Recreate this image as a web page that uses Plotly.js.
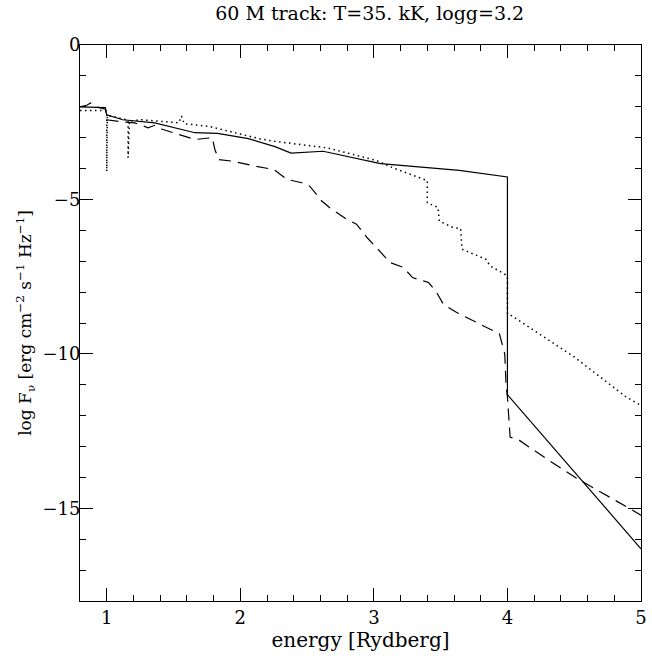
<!DOCTYPE html>
<html>
<head>
<meta charset="utf-8">
<script src="https://cdn.plot.ly/plotly-3.0.1.min.js"></script>
<style>html,body{margin:0;padding:0;background:#fff;}</style>
</head>
<body>
<div id="chart" style="width:652px;height:656px;"></div>
<script>
// Solid series
const solidX = [0.8, 0.99, 1.0, 1.12, 1.36, 1.5, 1.66, 1.83, 2.06, 2.26, 2.38, 2.62, 3.05, 3.64, 4.0, 4.0, 5.0];
const solidY = [-2.0, -2.03, -2.26, -2.42, -2.52, -2.68, -2.84, -2.86, -3.03, -3.29, -3.5, -3.44, -3.84, -4.06, -4.27, -11.32, -16.31];

// Dotted series
const dotX = [0.8, 0.99, 1.0, 1.0, 1.0, 1.005, 1.15, 1.16, 1.16, 1.17, 1.26, 1.54, 1.56, 1.58, 1.76, 2.15, 2.26, 2.65, 3.02, 3.14, 3.4, 3.4, 3.48, 3.49, 3.59, 3.65, 3.66, 3.84, 3.87, 3.98, 4.0, 4.0, 4.03, 4.5, 4.89, 5.0];
const dotY = [-2.12, -2.12, -2.15, -4.09, -2.26, -2.28, -2.42, -2.45, -3.65, -2.46, -2.42, -2.52, -2.3, -2.55, -2.63, -3.04, -3.12, -3.33, -3.74, -3.97, -4.39, -5.11, -5.26, -5.7, -5.9, -5.95, -6.61, -6.94, -7.15, -7.42, -7.5, -8.71, -8.76, -10.1, -11.4, -11.67];

// Dashed series
const dashX = [0.8, 0.85, 0.88, 0.92, 0.99, 1.0, 1.12, 1.21, 1.31, 1.36, 1.41, 1.51, 1.66, 1.79, 1.81, 1.84, 1.94, 2.11, 2.25, 2.35, 2.46, 2.52, 2.61, 2.67, 2.8, 2.87, 2.95, 3.02, 3.12, 3.22, 3.29, 3.41, 3.47, 3.52, 3.62, 3.74, 3.84, 3.94, 3.98, 3.99, 4.0, 4.02, 4.09, 4.29, 4.52, 4.89, 5.0];
const dashY = [-2.0, -1.95, -1.88, -2.0, -2.08, -2.42, -2.49, -2.52, -2.68, -2.6, -2.72, -2.85, -3.06, -3.0, -3.39, -3.71, -3.76, -3.92, -4.03, -4.35, -4.46, -4.57, -5.05, -5.27, -5.65, -5.8, -6.24, -6.56, -7.04, -7.2, -7.53, -7.69, -8.01, -8.39, -8.66, -8.92, -9.14, -9.35, -10.0, -11.02, -11.4, -12.69, -12.8, -13.39, -14.03, -14.95, -15.22];

const titleText = '60 M track: T=35. kK, logg=3.2';
const xTitle = 'energy [Rydberg]';
const yTitle = 'log F<sub>ν</sub> [erg cm<sup>−2</sup> s<sup>−1</sup> Hz<sup>−1</sup>]';
const xTickVals = [1, 2, 3, 4, 5];
const yTickVals = [0, -5, -10, -15];
const yTickText = ['0', '−5', '−10', '−15'];

const font = 'DejaVu Serif, Liberation Serif, serif';

const traces = [
  {x: solidX, y: solidY, mode: 'lines', line: {color: '#000', width: 1.2}, hoverinfo: 'skip'},
  {x: dotX, y: dotY, mode: 'lines', line: {color: '#000', width: 1.5, dash: '1.5px,3.5px'}, hoverinfo: 'skip'},
  {x: dashX, y: dashY, mode: 'lines', line: {color: '#000', width: 1.2, dash: '12px,7px'}, hoverinfo: 'skip'}
];

const axisCommon = {
  showgrid: false, zeroline: false, showline: true, linecolor: '#000', linewidth: 1,
  mirror: 'ticks', ticks: 'inside', tickcolor: '#000', ticklen: 13, tickwidth: 1,
  tickfont: {family: font, size: 18, color: '#000'}
};

const layout = {
  width: 652, height: 656,
  margin: {l: 80, r: 11, t: 45, b: 55},
  paper_bgcolor: '#fff', plot_bgcolor: '#fff',
  showlegend: false,
  title: {text: titleText, font: {family: font, size: 19, color: '#000'}, x: 0.567, xref: 'container', xanchor: 'center', y: 0.98, yref: 'container', yanchor: 'middle'},
  xaxis: Object.assign({}, axisCommon, {
    range: [0.8, 5], tickvals: xTickVals, ticktext: xTickVals.map(String),
    minor: {dtick: 0.2, tick0: 0, ticks: 'inside', ticklen: 6, tickcolor: '#000', tickwidth: 1},
    title: {text: xTitle, font: {family: font, size: 20, color: '#000'}, standoff: 4}
  }),
  yaxis: Object.assign({}, axisCommon, {
    range: [-18, 0], tickvals: yTickVals, ticktext: yTickText, ticklabelstandoff: -5,
    minor: {dtick: 1, tick0: 0, ticks: 'inside', ticklen: 6, tickcolor: '#000', tickwidth: 1},
    title: {text: yTitle, font: {family: font, size: 17, color: '#000'}, standoff: 6}
  })
};

Plotly.newPlot('chart', traces, layout, {displayModeBar: false, staticPlot: true});
</script>
</body>
</html>
